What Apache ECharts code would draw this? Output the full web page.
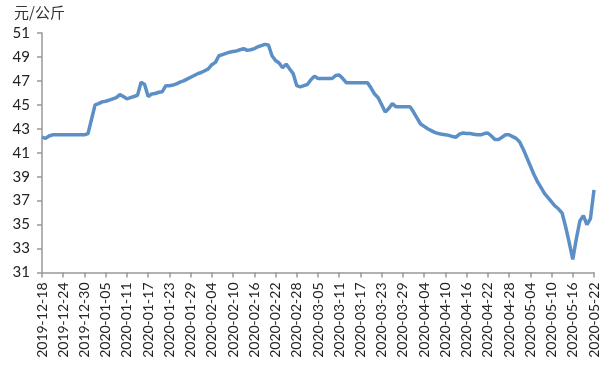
<!DOCTYPE html>
<html>
<head>
<meta charset="utf-8">
<script src="https://cdn.jsdelivr.net/npm/echarts@6/dist/echarts.min.js"></script>
<style>html,body{margin:0;padding:0;background:#fff;}#c{width:615px;height:369px;}</style>
</head>
<body>
<div id="c"></div>
<script>
// Categories: daily dates from 2019-12-18 to 2020-05-22
var startDate = '2019-12-18';
var endDate = '2020-05-22';
var unitLabel = '元/公斤';
var yMin = 31, yMax = 51, yStep = 2;
var prices = [
42.3,42.2,42.4,42.5,42.5,42.5,42.5,42.5,42.5,42.5,42.5,42.5,42.5,42.6,43.8,45.0,45.1,45.25,45.3,45.4,
45.5,45.6,45.85,45.7,45.5,45.6,45.7,45.8,46.9,46.7,45.7,45.9,45.95,46.05,46.1,46.6,46.6,46.65,46.75,46.9,
47.0,47.15,47.3,47.45,47.6,47.7,47.85,48.0,48.35,48.55,49.1,49.2,49.3,49.4,49.45,49.5,49.6,49.7,49.55,49.6,
49.7,49.85,49.95,50.05,50.0,49.1,48.7,48.5,48.1,48.4,48.0,47.6,46.6,46.5,46.6,46.7,47.1,47.4,47.2,47.2,
47.2,47.2,47.2,47.45,47.5,47.2,46.85,46.85,46.85,46.85,46.85,46.85,46.85,46.4,45.9,45.6,45.0,44.4,44.7,45.1,
44.85,44.85,44.85,44.85,44.85,44.4,43.9,43.4,43.2,43.0,42.85,42.7,42.6,42.55,42.5,42.45,42.35,42.3,42.55,42.65,
42.6,42.6,42.55,42.5,42.5,42.6,42.65,42.4,42.1,42.1,42.3,42.5,42.5,42.35,42.2,41.9,41.3,40.6,39.9,39.2,
38.6,38.1,37.6,37.25,36.9,36.55,36.3,35.95,34.8,33.5,32.1,33.8,35.3,35.75,35.0,35.5,37.9
];
var dates = [];
(function(){
  var d = new Date(startDate + 'T00:00:00Z');
  var e = new Date(endDate + 'T00:00:00Z');
  while (d <= e) {
    dates.push(d.toISOString().slice(0,10));
    d = new Date(d.getTime() + 86400000);
  }
})();

var chart = echarts.init(document.getElementById('c'), null, {renderer:'canvas'});
chart.setOption({
  animation: false,
  backgroundColor: '#fff',
  graphic: [{
    type: 'text', left: 14, top: 5,
    style: { text: unitLabel, font: '15px "Noto Sans CJK SC"', fill: '#333' }
  }],
  grid: { left: 42, right: 21, top: 33, bottom: 96.5, containLabel: false },
  xAxis: {
    type: 'category',
    data: dates,
    boundaryGap: false,
    axisLine: { lineStyle: { color: '#999', width: 1.5 } },
    axisTick: { interval: 5, length: 5, lineStyle: { color: '#999', width: 1.5 } },
    axisLabel: { interval: 5, rotate: 90, margin: 10, color: '#222', fontSize: 14, fontFamily: 'Lato' },
    splitLine: { show: false }
  },
  yAxis: {
    type: 'value',
    min: yMin, max: yMax, interval: yStep,
    axisLine: { show: true, lineStyle: { color: '#999', width: 1.5 } },
    axisTick: { show: true, length: 5, lineStyle: { color: '#999', width: 1.5 } },
    axisLabel: { margin: 12, color: '#222', fontSize: 15, fontFamily: 'Lato' },
    splitLine: { show: false }
  },
  series: [{
    type: 'line',
    data: prices,
    symbol: 'none',
    smooth: false,
    lineStyle: { color: '#5b8fc6', width: 3.5 }
  }]
});
</script>
</body>
</html>
